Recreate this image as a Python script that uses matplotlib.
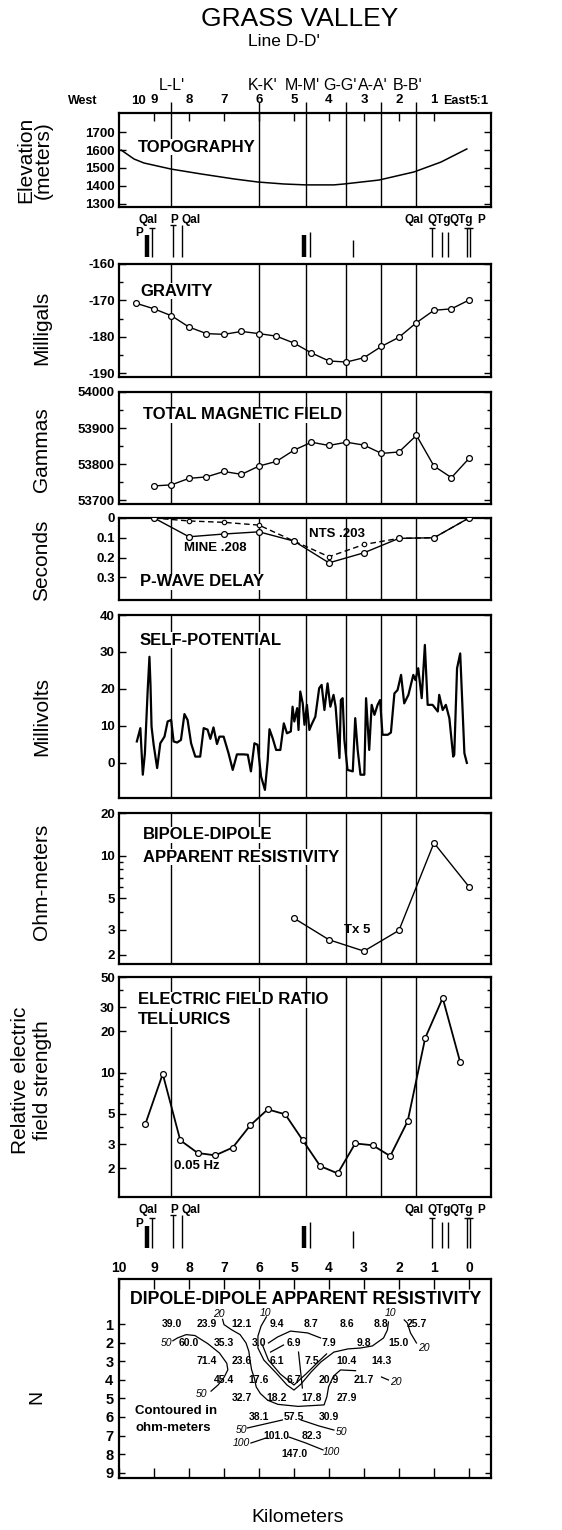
import matplotlib
matplotlib.use("Agg")
import matplotlib.pyplot as plt

plt.rcParams["font.family"] = ["Liberation Sans", "DejaVu Sans"]

# ---------------- data (distance in km from the east end of line D-D') ----------------
cross_km = [8.5, 6.0, 4.65, 3.5, 2.5, 1.5]
cross_names = ["L-L'", "K-K'", "M-M'", "G-G'", "A-A'", "B-B'"]
top_km_ticks = [9, 8, 7, 6, 5, 4, 3, 2, 1]

topo_km = [9.94, 9.57, 9.29, 8.51, 7.66, 6.71, 6.03, 5.29, 4.66, 3.86, 3.57, 2.57, 1.57, 0.8, 0.06]
topo_m = [1600, 1550, 1528, 1494, 1467, 1439, 1422, 1411, 1406, 1406, 1411, 1433, 1478, 1533, 1606]

grav_km = [9.5, 9.0, 8.5, 8.0, 7.5, 7.0, 6.5, 6.0, 5.5, 5.0, 4.5, 4.0, 3.5, 3.0, 2.5, 2.0, 1.5, 1.0, 0.5, 0.0]
grav_mgal = [-170.8, -172.3, -174.2, -177.3, -179.1, -179.3, -178.5, -179.1, -179.8, -181.7,
             -184.4, -186.6, -186.9, -185.7, -182.6, -180.1, -176.1, -172.7, -172.3, -169.9]

mag_km = [9.0, 8.5, 8.0, 7.5, 7.0, 6.5, 6.0, 5.5, 5.0, 4.5, 4.0, 3.5, 3.0, 2.5, 2.0, 1.5, 1.0, 0.5, 0.0]
mag_gamma = [53740, 53743, 53761, 53765, 53780, 53772, 53795, 53808, 53839, 53861,
             53852, 53861, 53853, 53830, 53834, 53880, 53795, 53763, 53816]

pwave_km = [9, 8, 7, 6, 5, 4, 3, 2, 1, 0]
pwave_mine = [0.0, 0.095, 0.081, 0.07, 0.117, 0.227, 0.176, 0.103, 0.1, 0.0]
pwave_nts = [0.0, 0.015, 0.022, 0.036, 0.117, 0.196, 0.134, 0.103, 0.1, 0.0]

sp_km = [9.49, 9.39, 9.32, 9.26, 9.18, 9.13, 9.10, 9.07, 9.01, 8.91, 8.82, 8.70, 8.61, 8.51, 8.44,
         8.34, 8.23, 8.13, 8.04, 7.94, 7.82, 7.68, 7.58, 7.47, 7.39, 7.30, 7.20, 7.13, 7.01, 6.87,
         6.75, 6.63, 6.44, 6.32, 6.23, 6.13, 6.04, 5.94, 5.83, 5.75, 5.70, 5.61, 5.51, 5.39, 5.29,
         5.20, 5.09, 5.04, 4.99, 4.91, 4.87, 4.82, 4.75, 4.70, 4.63, 4.56, 4.50, 4.39, 4.28, 4.21,
         4.13, 4.04, 3.96, 3.87, 3.81, 3.70, 3.66, 3.61, 3.56, 3.47, 3.32, 3.25, 3.18, 3.10, 2.99,
         2.94, 2.85, 2.78, 2.70, 2.61, 2.54, 2.47, 2.32, 2.23, 2.13, 2.04, 1.94, 1.85, 1.73, 1.59,
         1.53, 1.45, 1.35, 1.26, 1.18, 1.04, 0.89, 0.85, 0.75, 0.66, 0.56, 0.45, 0.42, 0.34, 0.25,
         0.13, 0.06]
sp_mv = [5.8, 9.4, -3.2, 2.6, 19.7, 28.7, 21.1, 9.8, 4.9, -1.4, 5.3, 7.1, 11.2, 11.6, 5.8,
         5.5, 6.2, 13.2, 11.6, 5.3, 1.7, 1.7, 9.4, 9.0, 6.5, 9.6, 5.1, 7.1, 7.1, 2.6,
         -1.9, 2.3, 2.3, 2.2, -2.3, 5.3, 4.9, -3.7, -7.3, 0.8, 9.1, 6.7, 3.5, 3.5, 10.7,
         8.0, 8.5, 15.2, 11.2, 14.8, 8.9, 19.3, 16.1, 10.3, 15.7, 8.9, 10.3, 12.5, 20.2, 21.1,
         14.3, 21.5, 15.2, 18.4, 15.2, 1.3, 17.0, 17.5, 6.2, -1.9, -2.3, 12.1, 3.5, -3.2, -3.2,
         17.5, 3.5, 15.7, 13.0, 15.7, 17.0, 7.6, 7.6, 8.2, 18.8, 19.7, 23.8, 16.1, 18.4, 23.8,
         22.4, 25.6, 17.5, 31.9, 15.7, 15.7, 13.9, 18.4, 14.3, 15.7, 12.1, 1.7, 2.2, 25.6, 29.6,
         2.6, 0.0]

bipole_km = [5, 4, 3, 2, 1, 0]
bipole_ohm = [3.62, 2.55, 2.12, 2.97, 12.3, 6.04]

tell_km = [9.25, 8.75, 8.25, 7.75, 7.25, 6.75, 6.25, 5.75, 5.25, 4.75, 4.25, 3.75, 3.25, 2.75,
           2.25, 1.75, 1.25, 0.75, 0.25]
tell_ratio = [4.18, 9.78, 3.2, 2.58, 2.48, 2.83, 4.11, 5.38, 4.95, 3.2, 2.07, 1.83, 3.03, 2.94,
              2.45, 4.42, 17.9, 35.1, 11.9]

# geology contacts along the line
geo_km = [9.2, 9.05, 8.45, 8.2, 4.72, 4.55, 3.3, 1.05, 0.78, 0.6, 0.06, -0.02]
geo_top = [0.47, 0.61, 0.67, 0.67, 0.47, 0.53, 0.37, 0.61, 0.53, 0.53, 0.61, 0.61]
geo_thick = [True, False, False, False, True, False, False, False, False, False, False, False]
geo_cap = [False, True, True, False, False, False, False, True, False, False, True, True]
geo_label_km = [9.17, 8.43, 7.94, 1.57, 0.86, 0.23, -0.34]
geo_label_txt = ["Qal", "P", "Qal", "Qal", "QTg", "QTg", "P"]

# dipole-dipole pseudosection
dd_km = [8.5, 7.5, 6.5, 5.5, 4.5, 3.5, 2.5, 1.5,
         8, 7, 6, 5, 4, 3, 2,
         7.5, 6.5, 5.5, 4.5, 3.5, 2.5,
         7, 6, 5, 4, 3,
         6.5, 5.5, 4.5, 3.5,
         6, 5, 4,
         5.5, 4.5,
         5]
dd_n = [1] * 8 + [2] * 7 + [3] * 6 + [4] * 5 + [5] * 4 + [6] * 3 + [7] * 2 + [8]
dd_rho = ["39.0", "23.9", "12.1", "9.4", "8.7", "8.6", "8.8", "25.7",
          "60.0", "35.3", "3.0", "6.9", "7.9", "9.8", "15.0",
          "71.4", "23.6", "6.1", "7.5", "10.4", "14.3",
          "45.4", "17.6", "6.7", "20.9", "21.7",
          "32.7", "18.2", "17.8", "27.9",
          "38.1", "57.5", "30.9",
          "101.0", "82.3",
          "147.0"]

c50a_km = [8.46, 8.33, 8.08, 7.83, 7.46, 7.13, 6.92, 6.89, 7.0, 7.17, 7.37]
c50a_n = [1.9, 1.75, 1.57, 1.62, 2.06, 2.56, 3.11, 3.47, 3.87, 4.28, 4.61]
c20a_km = [7.04, 7.0, 6.79, 6.54, 6.37, 6.29, 6.25, 6.21, 6.13, 6.08, 5.96, 5.75, 5.46, 4.88,
           4.14, 4.06, 4.01, 3.87, 3.67, 3.24]
c20a_n = [0.75, 1.03, 1.3, 1.57, 2.02, 2.47, 3.02, 3.47, 3.92, 4.38, 4.74, 5.1, 5.32, 5.43,
          5.35, 4.91, 4.37, 3.8, 3.47, 3.51]
c20b_km = [2.5, 2.3]
c20b_n = [3.85, 4.01]
c20c_km = [1.85, 1.76, 1.67, 1.5]
c20c_n = [0.78, 0.95, 1.48, 2.02]
c10_km = [5.79, 5.94, 6.03, 6.03, 5.86, 5.51, 5.2, 5.0, 4.8, 4.51, 4.23, 3.86, 3.46, 3.1, 2.76,
          2.44, 2.33, 2.3]
c10_n = [0.62, 1.11, 1.65, 2.29, 2.94, 3.63, 4.28, 4.55, 4.23, 3.58, 3.04, 2.51, 2.34, 2.29,
         2.18, 1.75, 1.32, 0.89]
c10in_km = [5.9, 5.73, 5.39, 5.0, 4.66, 4.31, 4.07]
c10in_n = [2.13, 2.94, 3.69, 4.28, 3.69, 3.04, 2.61]
cloop_km = [5.73, 5.47, 5.1, 4.61, 4.24]
cloop_n = [2.02, 1.7, 1.38, 1.48, 1.75]
cshort_km = [5.67, 5.3]
cshort_n = [2.51, 2.13]
cvert_km = [4.87, 4.76]
cvert_n = [2.51, 4.44]
c50b_km = [6.33, 5.33]
c50b_n = [6.59, 6.16]
c50c_km = [4.8, 4.29, 3.86]
c50c_n = [6.16, 6.48, 6.7]
c100a_km = [6.23, 5.8]
c100a_n = [7.4, 7.13]
c100b_km = [5.14, 4.66, 4.17]
c100b_n = [7.08, 7.4, 7.77]
clab_km = [8.64, 7.64, 7.15, 5.8, 2.24, 2.1, 1.3, 6.51, 3.64, 6.51, 3.94]
clab_n = [2.02, 4.74, 0.45, 0.41, 0.41, 4.12, 2.29, 6.7, 6.8, 7.4, 7.88]
clab_txt = ["50", "50", "20", "10", "10", "20", "20", "50", "50", "100", "100"]

# ---------------- layout helpers ----------------
W, H = 562, 1530
L, R = 119, 491
KM_LIM = (10.0, -0.63)

fig = plt.figure(figsize=(W / 100, H / 100), dpi=100)


def ftext(x, y, s, **kw):
    kw.setdefault("ha", "center")
    kw.setdefault("va", "center")
    return fig.text(x / W, 1 - y / H, s, **kw)


def panel(top, bottom):
    return fig.add_axes([L / W, 1 - bottom / H, (R - L) / W, (bottom - top) / H])


def style(ax, yticks, ylabels, minor=None, lines=True):
    ax.set_xlim(KM_LIM)
    ax.set_xticks([])
    ax.set_yticks(yticks)
    ax.set_yticklabels(ylabels, fontsize=9.5, fontweight="bold")
    if minor is not None:
        ax.set_yticks(minor, minor=True)
        ax.set_yticklabels([""] * len(minor), minor=True)
    ax.tick_params(axis="y", which="both", direction="in", left=True, right=True, width=1)
    ax.tick_params(axis="y", which="major", length=5, pad=3)
    ax.tick_params(axis="y", which="minor", length=3)
    for s in ax.spines.values():
        s.set_linewidth(1.6)
    if lines:
        ax.vlines(cross_km, 0, 1, transform=ax.get_xaxis_transform(), color="k", lw=1.0, zorder=1)


def title(x, y, s, size=12):
    ftext(x, y, s, ha="left", fontsize=size, fontweight="bold",
          bbox=dict(facecolor="white", edgecolor="none", pad=0.5), zorder=5)


def ylab(x, y, s):
    ftext(x, y, s, rotation=90, fontsize=15)


def geology(ax):
    ax.set_xlim(KM_LIM)
    ax.set_ylim(0, 1)
    ax.axis("off")
    for k, t, thick, cap in zip(geo_km, geo_top, geo_thick, geo_cap):
        ax.plot([k, k], [0.04, t], color="k", lw=3.2 if thick else 1.0, solid_capstyle="butt")
        if cap:
            ax.plot([k], [t], marker="_", ms=5, mew=1.0, color="k")
    for k, s in zip(geo_label_km, geo_label_txt):
        ax.text(k, 0.76, s, ha="center", va="center", fontsize=8.5, fontweight="bold")
    ax.text(9.43, 0.5, "P", ha="center", va="center", fontsize=8.5, fontweight="bold")


MK = dict(marker="o", ms=4.2, mfc="white", mec="k", mew=0.9)

# ---------------- header ----------------
ftext(300, 19, "GRASS VALLEY", fontsize=19)
ftext(284, 42, "Line D-D'", fontsize=12.5)
for name, x in zip(cross_names, [172, 263, 302, 340, 373, 408]):
    ftext(x, 85, name, fontsize=11.5)
ftext(97, 101, "West", ha="right", fontsize=9, fontweight="bold")
ftext(138, 101, "10", fontsize=9.5, fontweight="bold")
ftext(456, 101, "East", fontsize=9, fontweight="bold")
ftext(479, 101, "5:1", fontsize=9.5, fontweight="bold")

# ---------------- topography ----------------
ax = panel(113, 207)
ax.plot(topo_km, topo_m, color="k", lw=1.1, zorder=3)
ax.set_ylim(1283, 1806)
style(ax, [1300, 1400, 1500, 1600, 1700], ["1300", "1400", "1500", "1600", "1700"])
ax.set_xticks(top_km_ticks)
ax.tick_params(axis="x", top=True, bottom=False, direction="in", length=6, width=1,
               labeltop=False, labelbottom=False)
ax.vlines(cross_km, 1.0, 1.12, transform=ax.get_xaxis_transform(), color="k", lw=1.0,
          clip_on=False)
for k in top_km_ticks:
    ax.text(k, 1.135, str(k), transform=ax.get_xaxis_transform(), ha="center", va="center",
            fontsize=9.5, fontweight="bold")
title(138, 147, "TOPOGRAPHY")
ftext(26, 160, "Elevation", rotation=90, fontsize=15)
ftext(43, 160, "(meters)", rotation=90, fontsize=15)

geology(panel(208, 259))

# ---------------- gravity ----------------
ax = panel(264, 377)
ax.plot(grav_km, grav_mgal, color="k", lw=1.0, zorder=3, **MK)
ax.set_ylim(-191, -160)
style(ax, [-190, -180, -170, -160], ["-190", "-180", "-170", "-160"], minor=[-185, -175, -165])
title(140, 291, "GRAVITY")
ylab(42, 328, "Milligals")

# ---------------- magnetics ----------------
ax = panel(392, 504)
ax.plot(mag_km, mag_gamma, color="k", lw=1.0, zorder=3, **MK)
ax.set_ylim(53690, 54000)
style(ax, [53700, 53800, 53900, 54000], ["53700", "53800", "53900", "54000"],
      minor=[53750, 53850, 53950])
title(143, 415, "TOTAL MAGNETIC FIELD")
ylab(42, 450, "Gammas")

# ---------------- p-wave delay ----------------
ax = panel(518, 600)
ax.plot(pwave_km, pwave_nts, color="k", lw=1.0, ls=(0, (4, 2.5)), zorder=3,
        marker="o", ms=3.2, mfc="white", mec="k", mew=0.8)
ax.plot(pwave_km, pwave_mine, color="k", lw=1.0, zorder=4, **MK)
ax.set_ylim(0.415, 0)
style(ax, [0, 0.1, 0.2, 0.3], ["0", "0.1", "0.2", "0.3"])
ftext(215, 548, "MINE .208", fontsize=9.5, fontweight="bold")
ftext(337, 534, "NTS .203", fontsize=9.5, fontweight="bold")
title(140, 582, "P-WAVE DELAY")
ylab(42, 560, "Seconds")

# ---------------- self potential ----------------
ax = panel(615, 798)
ax.plot(sp_km, sp_mv, color="k", lw=1.6, zorder=3)
ax.set_ylim(-9.5, 40)
style(ax, [0, 10, 20, 30, 40], ["0", "10", "20", "30", "40"])
title(140, 640, "SELF-POTENTIAL")
ylab(42, 717, "Millivolts")

# ---------------- bipole-dipole ----------------
ax = panel(813, 964)
ax.set_yscale("log")
ax.plot(bipole_km, bipole_ohm, color="k", lw=1.0, zorder=3, **MK)
ax.set_ylim(1.72, 20)
style(ax, [2, 3, 5, 10, 20], ["2", "3", "5", "10", "20"], minor=[4, 6, 7, 8, 9])
title(143, 835, "BIPOLE-DIPOLE")
title(143, 857, "APPARENT RESISTIVITY")
ftext(357, 930, "Tx 5", fontsize=9.5, fontweight="bold")
ylab(42, 882, "Ohm-meters")

# ---------------- tellurics ----------------
ax = panel(977, 1197)
ax.set_yscale("log")
ax.plot(tell_km, tell_ratio, color="k", lw=1.3, zorder=3, **MK)
ax.set_ylim(1.23, 50)
style(ax, [2, 3, 5, 10, 20, 30, 50], ["2", "3", "5", "10", "20", "30", "50"],
      minor=[4, 6, 7, 8, 9, 40])
title(138, 1000, "ELECTRIC FIELD RATIO")
title(138, 1019, "TELLURICS")
ftext(174, 1166, "0.05 Hz", ha="left", fontsize=9.5, fontweight="bold")
ftext(21, 1080, "Relative electric", rotation=90, fontsize=15)
ftext(42, 1080, "field strength", rotation=90, fontsize=15)

geology(panel(1198, 1250))

# ---------------- dipole-dipole pseudosection ----------------
ax = panel(1279, 1478)
ax.set_xlim(KM_LIM)
ax.set_ylim(9.28, -1.42)
ax.set_xticks(range(11))
ax.set_xticklabels([str(k) for k in range(11)], fontsize=10, fontweight="bold")
ax.tick_params(axis="x", top=True, bottom=True, direction="in", length=7, width=1,
               labeltop=True, labelbottom=False, pad=3)
ax.set_yticks(range(1, 10))
ax.set_yticklabels([str(n) for n in range(1, 10)], fontsize=10.5, fontweight="bold")
ax.tick_params(axis="y", left=True, right=True, direction="in", length=4, width=1, pad=4)
for s in ax.spines.values():
    s.set_linewidth(1.6)
for k, n, v in zip(dd_km, dd_n, dd_rho):
    ax.text(k, n, v, ha="center", va="center", fontsize=7.5, fontweight="bold")
for xs, ys in [(c50a_km, c50a_n), (c20a_km, c20a_n), (c20b_km, c20b_n), (c20c_km, c20c_n),
               (c10_km, c10_n), (c10in_km, c10in_n), (cloop_km, cloop_n),
               (cshort_km, cshort_n), (cvert_km, cvert_n), (c50b_km, c50b_n),
               (c50c_km, c50c_n), (c100a_km, c100a_n), (c100b_km, c100b_n)]:
    ax.plot(xs, ys, color="k", lw=0.9)
for k, n, s in zip(clab_km, clab_n, clab_txt):
    ax.text(k, n, s, ha="center", va="center", fontsize=7.5, style="italic")
ftext(306, 1300, "DIPOLE-DIPOLE APPARENT RESISTIVITY", fontsize=12.8, fontweight="bold")
ftext(135, 1411, "Contoured in", ha="left", fontsize=9.5, fontweight="bold")
ftext(135, 1428, "ohm-meters", ha="left", fontsize=9.5, fontweight="bold")
ftext(37, 1397, "N", rotation=90, fontsize=14)
ftext(298, 1517, "Kilometers", fontsize=14)

fig.savefig("out.png", dpi=100)
print("Saved out.png")
